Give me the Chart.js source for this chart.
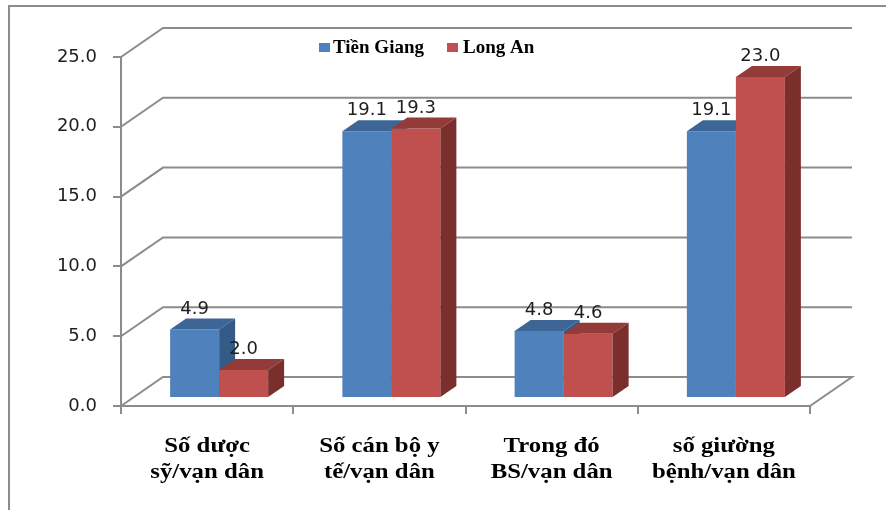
<!DOCTYPE html>
<html>
<head>
<meta charset="utf-8">
<title>Chỉ số y tế: Tiền Giang và Long An</title>
<script src="https://cdn.jsdelivr.net/npm/chart.js@4/dist/chart.umd.min.js"></script>
<style>
  html, body { margin: 0; padding: 0; background: #fff; }
  #wrap { width: 886px; height: 510px; position: relative; }
</style>
</head>
<body>
<div id="wrap"><canvas id="c" width="886" height="510"></canvas></div>
<script>
// Categories (two-line labels), series and axis ticks
const categories = [
  ['Số dược', 'sỹ/vạn dân'],
  ['Số cán bộ y', 'tế/vạn dân'],
  ['Trong đó', 'BS/vạn dân'],
  ['số giường', 'bệnh/vạn dân']
];
const seriesNames = ['Tiền Giang', 'Long An'];
const tienGiang = [4.9, 19.1, 4.8, 19.1];
const longAn = [2.0, 19.3, 4.6, 23.0];
const yTicks = [0, 5, 10, 15, 20, 25];

// Face colours for the extruded columns: front, top, side
const palette = [
  { front: '#4F81BD', top: '#3D6696', side: '#345A87' },
  { front: '#C0504D', top: '#933B39', side: '#7B2F2D' }
];

// Oblique projection offsets (pixels)
const WALL = { dx: 42, dy: -29 };   // back wall relative to the front axis plane
const SHIFT = { dx: 12, dy: -8 };   // column front faces relative to the front plane
const DEPTH = { dx: 16, dy: -11 };  // column thickness
const LINE = '#8c8c8c';

const view3d = {
  id: 'view3d',
  beforeDraw(chart) {
    const ctx = chart.ctx;
    ctx.save();
    ctx.fillStyle = '#fff';
    ctx.fillRect(0, 0, chart.width, chart.height);
    // outer chart frame
    ctx.strokeStyle = LINE;
    ctx.lineWidth = 2;
    ctx.beginPath();
    ctx.moveTo(9, chart.height);
    ctx.lineTo(9, 6);
    ctx.lineTo(chart.width, 6);
    ctx.stroke();
    ctx.restore();
  },
  beforeDatasetsDraw(chart) {
    const ctx = chart.ctx;
    const xs = chart.scales.x, ys = chart.scales.y;
    const left = xs.left, right = xs.right;
    ctx.save();
    ctx.strokeStyle = LINE;
    ctx.lineWidth = 2;
    ctx.lineJoin = 'miter';
    // side wall diagonals and back wall gridlines
    yTicks.forEach(v => {
      const y = ys.getPixelForValue(v);
      ctx.beginPath();
      ctx.moveTo(left, y);
      ctx.lineTo(left + WALL.dx, y + WALL.dy);
      ctx.lineTo(right + WALL.dx, y + WALL.dy);
      if (v === 0) ctx.lineTo(right, y);
      ctx.stroke();
    });
    ctx.restore();

    // columns, category by category so nearer faces overlap correctly
    const metas = chart.data.datasets.map((d, i) => chart.getDatasetMeta(i));
    categories.forEach((c, i) => {
      metas.forEach((meta, d) => {
        const el = meta.data[i];
        const col = palette[d];
        ctx.save();
        ctx.translate(SHIFT.dx, SHIFT.dy);
        el.draw(ctx);
        const L = el.x - el.width / 2, R = el.x + el.width / 2;
        const T = el.y, B = el.base;
        // top face
        ctx.fillStyle = col.top;
        ctx.beginPath();
        ctx.moveTo(L, T);
        ctx.lineTo(L + DEPTH.dx, T + DEPTH.dy);
        ctx.lineTo(R + DEPTH.dx, T + DEPTH.dy);
        ctx.lineTo(R, T);
        ctx.closePath();
        ctx.fill();
        // right side face
        ctx.fillStyle = col.side;
        ctx.beginPath();
        ctx.moveTo(R, T);
        ctx.lineTo(R + DEPTH.dx, T + DEPTH.dy);
        ctx.lineTo(R + DEPTH.dx, B + DEPTH.dy);
        ctx.lineTo(R, B);
        ctx.closePath();
        ctx.fill();
        ctx.restore();
      });
    });

    // value labels above each column
    ctx.save();
    ctx.font = '18px "DejaVu Sans"';
    ctx.fillStyle = '#1e1e1e';
    ctx.textAlign = 'center';
    ctx.textBaseline = 'alphabetic';
    metas.forEach((meta, d) => {
      const vals = chart.data.datasets[d].data;
      meta.data.forEach((el, i) => {
        ctx.fillText(vals[i].toFixed(1), el.x + SHIFT.dx, el.y + SHIFT.dy + DEPTH.dy - 5);
      });
    });
    ctx.restore();
    return false; // columns already drawn above
  },
  afterDraw(chart) {
    const ctx = chart.ctx;
    const xs = chart.scales.x;
    // category labels: wide bold serif, two lines each
    ctx.save();
    ctx.font = 'bold 21px "Liberation Serif"';
    ctx.fillStyle = '#000';
    ctx.textAlign = 'center';
    ctx.textBaseline = 'alphabetic';
    chart.data.labels.forEach((lines, i) => {
      const cx = xs.getPixelForTick(i);
      lines.forEach((t, k) => {
        ctx.save();
        ctx.translate(cx, 452 + k * 26);
        ctx.scale(1.18, 1);
        ctx.fillText(t, 0, 0);
        ctx.restore();
      });
    });
    ctx.restore();

    // legend
    ctx.save();
    ctx.font = 'bold 19px "Liberation Serif"';
    ctx.textBaseline = 'middle';
    ctx.textAlign = 'left';
    const items = [{ box: 319, text: 333 }, { box: 447, text: 463 }];
    chart.data.datasets.forEach((ds, i) => {
      ctx.fillStyle = palette[i].front;
      ctx.fillRect(items[i].box, 43, 11, 9);
      ctx.fillStyle = '#000';
      ctx.fillText(ds.label, items[i].text, 48);
    });
    ctx.restore();
  }
};

new Chart(document.getElementById('c'), {
  type: 'bar',
  data: {
    labels: categories,
    datasets: [
      { label: seriesNames[0], data: tienGiang, backgroundColor: palette[0].front, borderWidth: 0 },
      { label: seriesNames[1], data: longAn, backgroundColor: palette[1].front, borderWidth: 0 }
    ]
  },
  options: {
    responsive: false,
    animation: false,
    devicePixelRatio: 1,
    layout: { padding: { top: 57, right: 76, left: 0, bottom: 0 } },
    datasets: { bar: { categoryPercentage: 0.569, barPercentage: 1.0 } },
    plugins: { legend: { display: false }, tooltip: { enabled: false } },
    scales: {
      x: {
        grid: { offset: true, drawOnChartArea: false, drawTicks: true, tickLength: 8, color: LINE, lineWidth: 2 },
        border: { display: true, color: LINE, width: 2 },
        ticks: { display: false, autoSkip: false, maxRotation: 0, minRotation: 0 },
        afterFit(s) { s.height = 104; }
      },
      y: {
        min: 0, max: 25,
        afterBuildTicks(s) { s.ticks = yTicks.map(v => ({ value: v })); },
        grid: { drawOnChartArea: false, drawTicks: true, tickLength: 8, color: LINE, lineWidth: 2 },
        border: { display: true, color: LINE, width: 2 },
        ticks: {
          padding: 16, color: '#1e1e1e',
          font: { family: '"DejaVu Sans"', size: 18 },
          callback: v => Number(v).toFixed(1)
        },
        afterFit(s) { s.width = 121; }
      }
    }
  },
  plugins: [view3d]
});
</script>
</body>
</html>
